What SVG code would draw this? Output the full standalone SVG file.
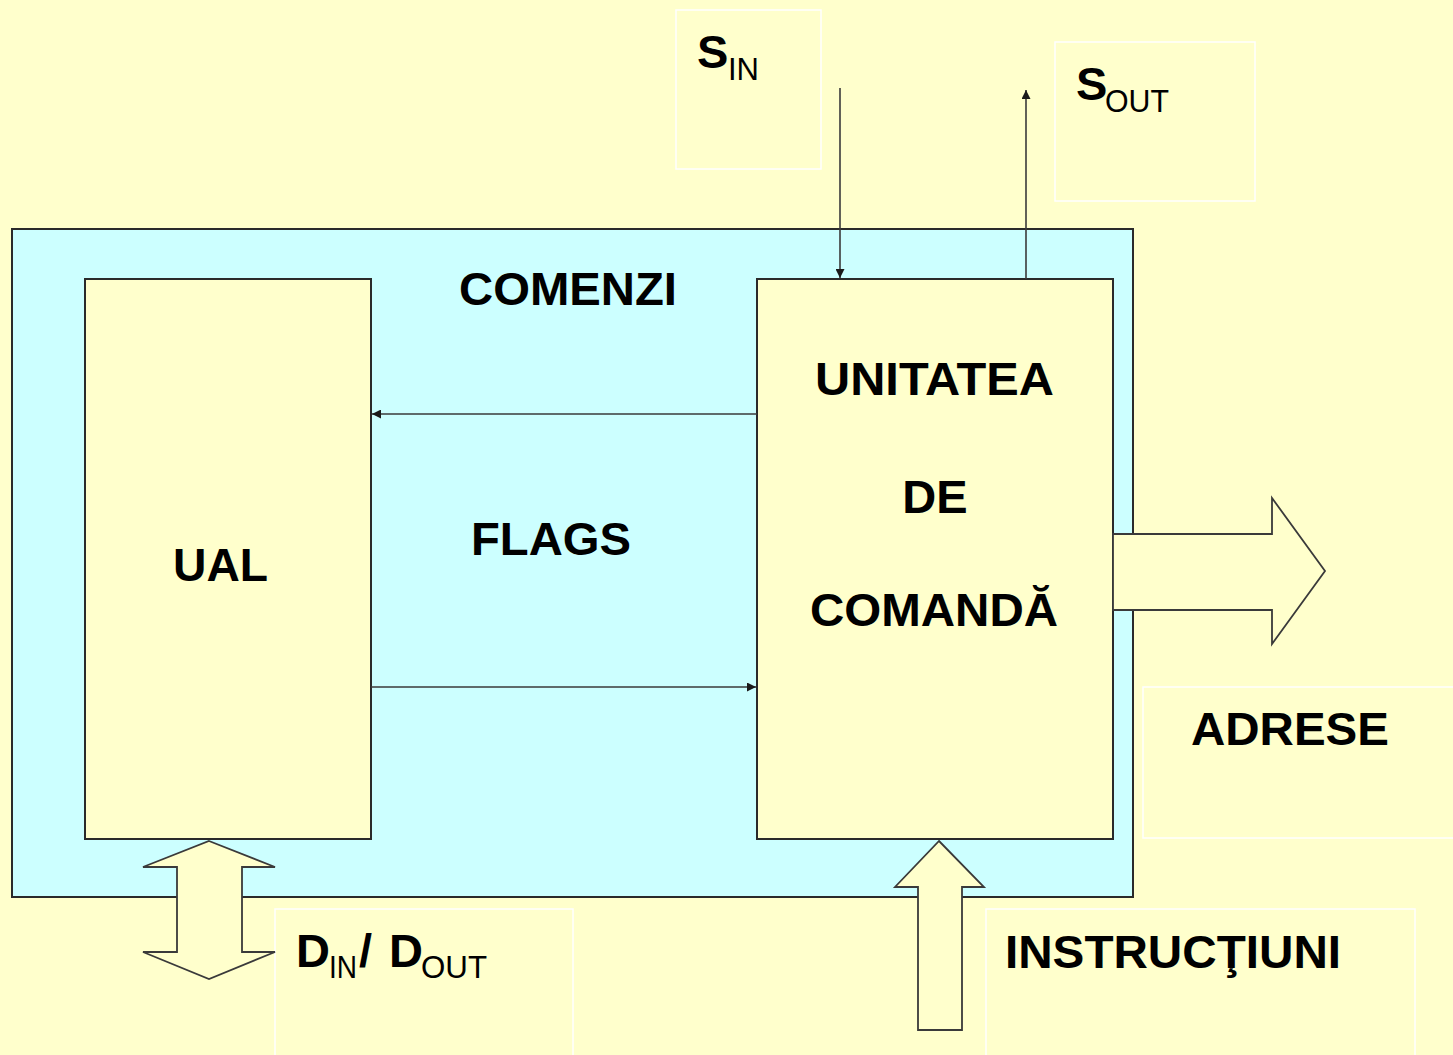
<svg xmlns="http://www.w3.org/2000/svg" width="1453" height="1055" viewBox="0 0 1453 1055">
<style>
.box{fill:#FFFFCC;stroke:#2a2a2a;stroke-width:2}
.lbl{fill:none;stroke:#ffffff;stroke-width:1.5}
.t{font-family:"Liberation Sans",Arial,sans-serif;font-weight:bold;font-size:47px;fill:#000}
.s{font-family:"Liberation Sans",Arial,sans-serif;font-weight:normal;font-size:32px;fill:#000}
.con{stroke:#3a3a3a;stroke-width:1.6;fill:none}
.big{fill:#FFFFCC;stroke:#3a3a3a;stroke-width:1.8;stroke-linejoin:miter}
</style>
<defs>
<marker id="ah" viewBox="0 0 10 10" refX="10" refY="5" markerWidth="10" markerHeight="9" markerUnits="userSpaceOnUse" orient="auto">
<path d="M0,0 L10,5 L0,10 z" fill="#1a1a1a"/>
</marker>
</defs>
<rect width="1453" height="1055" fill="#FFFFCC"/>
<g id="cpu">
<rect x="12" y="229" width="1121" height="668" fill="#CCFFFF" stroke="#2a2a2a" stroke-width="2"/>
</g>
<g id="label-boxes">
<rect class="lbl" x="676" y="10" width="145" height="159"/>
<rect class="lbl" x="1055" y="42" width="200" height="159"/>
<rect class="lbl" x="1143" y="687" width="312" height="151"/>
<rect class="lbl" x="275" y="909" width="298" height="150"/>
<rect class="lbl" x="986" y="909" width="429" height="150"/>
</g>
<g id="ual">
<rect class="box" x="85" y="279" width="286" height="560"/>
<text class="t" x="173" y="581" textLength="95" lengthAdjust="spacingAndGlyphs">UAL</text>
</g>
<g id="uc">
<rect class="box" x="757" y="279" width="356" height="560"/>
<text class="t" x="815" y="395" textLength="239" lengthAdjust="spacingAndGlyphs">UNITATEA</text>
<text class="t" x="935" y="513" text-anchor="middle">DE</text>
<text class="t" x="810" y="626" textLength="248" lengthAdjust="spacingAndGlyphs">COMANDĂ</text>
</g>
<g id="connectors">
<line class="con" x1="757" y1="414" x2="372" y2="414" marker-end="url(#ah)"/>
<line class="con" x1="371" y1="687" x2="756" y2="687" marker-end="url(#ah)"/>
<line class="con" x1="840" y1="88" x2="840" y2="278" marker-end="url(#ah)"/>
<line class="con" x1="1026" y1="279" x2="1026" y2="90" marker-end="url(#ah)"/>
<polygon class="big" points="1113,534 1272,534 1272,498 1325,571 1272,644 1272,610 1113,610"/>
<polygon class="big" points="209,841 275,867 242,867 242,952 275,952 209,979 143,952 177,952 177,867 143,867"/>
<polygon class="big" points="939,841 984,887 962,887 962,1030 918,1030 918,887 895,887"/>
</g>
<g id="labels">
<text class="t" x="459" y="305" textLength="218" lengthAdjust="spacingAndGlyphs">COMENZI</text>
<text class="t" x="471" y="555" textLength="160" lengthAdjust="spacingAndGlyphs">FLAGS</text>
<text class="t" x="1191" y="745" textLength="198" lengthAdjust="spacingAndGlyphs">ADRESE</text>
<text class="t" x="1005" y="968" textLength="336" lengthAdjust="spacingAndGlyphs">INSTRUCŢIUNI</text>
<text class="t" x="697" y="68" font-size="44">S</text>
<text class="s" x="728" y="80" textLength="31" lengthAdjust="spacingAndGlyphs">IN</text>
<text class="t" x="1076" y="100" font-size="44">S</text>
<text class="s" x="1105" y="112" textLength="64" lengthAdjust="spacingAndGlyphs">OUT</text>
<text class="t" x="296" y="967">D</text>
<text class="s" x="329" y="978" textLength="28" lengthAdjust="spacingAndGlyphs">IN</text>
<text class="t" x="359" y="967" font-size="40">/</text>
<text class="t" x="389" y="967">D</text>
<text class="s" x="421" y="978" textLength="66" lengthAdjust="spacingAndGlyphs">OUT</text>
</g>
</svg>
